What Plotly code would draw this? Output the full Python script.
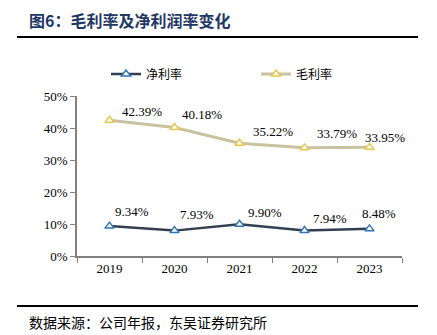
import plotly.graph_objects as go

years = ["2019", "2020", "2021", "2022", "2023"]
net_margin = [9.34, 7.93, 9.90, 7.94, 8.48]
gross_margin = [42.39, 40.18, 35.22, 33.79, 33.95]
net_name = "净利率"
gross_name = "毛利率"
title_text = "图6：毛利率及净利润率变化"
source_text = "数据来源：公司年报，东吴证券研究所"

# label offsets (px) - style
net_dx = [22, 22, 25, 25, 9]
net_dy = [15, 16, 12, 12, 15]
gross_dx = [32, 27, 33, 32, 15]
gross_dy = [9, 13, 12, 14, 10]

serif = "Liberation Serif, Times New Roman, serif"
cjk = "Noto Sans CJK SC"

fig = go.Figure()
fig.add_trace(go.Scatter(
    x=years, y=net_margin, name=net_name, mode="lines+markers",
    line=dict(color="#333F50", width=2.5),
    marker=dict(symbol="triangle-up", size=8, color="white",
                line=dict(color="#2E75B6", width=1.5)),
    legend="legend", showlegend=True,
))
fig.add_trace(go.Scatter(
    x=years, y=gross_margin, name=gross_name, mode="lines+markers",
    line=dict(color="#C9C29F", width=3),
    marker=dict(symbol="triangle-up", size=8, color="white",
                line=dict(color="#EBC54A", width=1.5)),
    legend="legend2", showlegend=True,
))

anns = []
for i, v in enumerate(net_margin):
    anns.append(dict(x=i, y=v, xref="x", yref="y", text=f"{v:.2f}%",
                     showarrow=False, xshift=net_dx[i], yshift=net_dy[i],
                     font=dict(family=serif, size=13, color="black")))
for i, v in enumerate(gross_margin):
    anns.append(dict(x=i, y=v, xref="x", yref="y", text=f"{v:.2f}%",
                     showarrow=False, xshift=gross_dx[i], yshift=gross_dy[i],
                     font=dict(family=serif, size=13, color="black")))

L, R, T, B = 77, 35, 96, 79
W, H = 437, 335
pw, ph = W - L - R, H - T - B

def px(x):
    return (x - L) / pw

def py(y):
    return (H - B - y) / ph

anns.append(dict(x=px(27), y=py(20), xref="paper", yref="paper", text=f"<b>{title_text}</b>",
                 showarrow=False, xanchor="left", yanchor="middle",
                 font=dict(family=cjk, size=16, color="#1F3864")))
anns.append(dict(x=px(27), y=py(322), xref="paper", yref="paper", text=source_text,
                 showarrow=False, xanchor="left", yanchor="middle",
                 font=dict(family=cjk, size=14, color="black")))

shapes = [
    dict(type="line", xref="paper", yref="paper", x0=px(17), x1=px(418), y0=py(37), y1=py(37),
         line=dict(color="black", width=2)),
    dict(type="line", xref="paper", yref="paper", x0=px(17), x1=px(418), y0=py(306), y1=py(306),
         line=dict(color="black", width=2)),
]

fig.update_layout(
    width=W, height=H,
    margin=dict(l=L, r=R, t=T, b=B),
    paper_bgcolor="white", plot_bgcolor="white",
    showlegend=True,
    annotations=anns, shapes=shapes,
    legend=dict(x=px(106), y=py(74), xanchor="left", yanchor="middle", orientation="h",
                font=dict(family=cjk, size=12, color="black"), bgcolor="rgba(0,0,0,0)"),
    legend2=dict(x=px(256), y=py(74), xanchor="left", yanchor="middle", orientation="h",
                 font=dict(family=cjk, size=12, color="black"), bgcolor="rgba(0,0,0,0)"),
    xaxis=dict(type="category", range=[-0.5, 4.5], showgrid=False, showline=True,
               linecolor="#808080", linewidth=1.5, ticks="outside", tickson="boundaries",
               ticklen=5, tickcolor="#808080", tickfont=dict(family=serif, size=13, color="black"),
               zeroline=False),
    yaxis=dict(range=[0, 50], dtick=10, ticksuffix="%", showgrid=False, showline=True,
               linecolor="#808080", linewidth=1.5, ticks="outside", ticklen=5, tickcolor="#808080",
               tickfont=dict(family=serif, size=13, color="black"), zeroline=False),
)

fig.write_html("out.html")
